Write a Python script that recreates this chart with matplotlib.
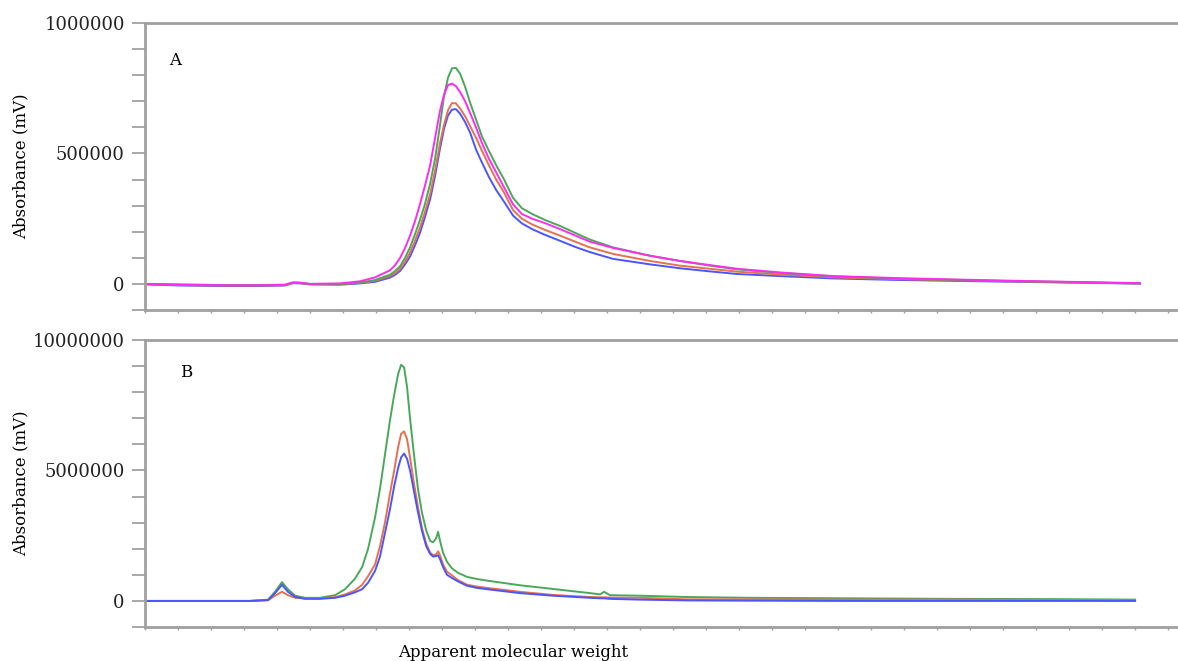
import matplotlib
matplotlib.use("Agg")
import matplotlib.pyplot as plt
from matplotlib.ticker import MultipleLocator, NullFormatter
import numpy as np

plt.rcParams['font.family'] = ['DejaVu Serif']

# --- Painel A: cromatogramas (eixo x em unidades de fracao) ---
xa = [0.00, 1.06, 2.27, 3.48, 4.24, 4.48, 4.70, 5.00, 5.91, 6.52, 6.97,
      7.42, 7.58, 7.73, 7.88, 8.03, 8.18, 8.33, 8.48, 8.64, 8.79, 8.94, 9.06,
      9.18, 9.30, 9.42, 9.55, 9.70, 9.85, 10.03, 10.21, 10.42, 10.64, 10.88,
      11.15, 11.42, 11.73, 12.12, 12.58, 13.03, 13.48,
      14.18, 15.30, 16.21, 17.12, 17.94, 19.24, 20.85, 22.88, 25.91, 28.03, 30.15]

# valores em milhares de mV
a_azul = [-2, -6, -8, -8, -6, 3, 2, -2, -3, 2, 8,
          24, 35, 50, 75, 105, 148, 195, 255, 325, 415, 520, 595, 645, 668, 670,
          652, 620, 580, 515, 465, 410, 360, 315, 262, 232, 210, 188, 165, 142, 122,
          96, 75, 60, 48, 38, 30, 21, 15, 9, 5, 1]
a_vermelho = [0, -4, -6, -6, -5, 4, 3, -1, -1, 4, 12,
              30, 42, 58, 85, 120, 165, 215, 275, 345, 435, 540, 610, 665, 693,
              692, 672, 642, 605, 560, 510, 455, 400, 350, 283, 250, 228, 207, 185,
              162, 140,
              115, 88, 70, 58, 47, 36, 25, 18, 11, 6, 2]
a_verde = [0, -2, -4, -4, -3, 5, 4, 0, 0, 5, 15,
           35, 50, 68, 100, 140, 190, 245, 305, 385, 480, 610, 720, 790, 826, 828,
           805, 755, 695, 630, 565, 510, 455, 400, 330, 290, 268, 245, 222, 196, 170,
           140, 108, 88, 70, 56, 42, 29, 20, 12, 7, 2]
a_magenta = [0, -3, -5, -5, -4, 6, 5, 0, 2, 10, 25,
             52, 72, 100, 138, 185, 240, 305, 375, 455, 560, 665, 725, 762, 768,
             758, 735, 700, 655, 600, 540, 480, 428, 370, 305, 268, 250, 233, 210,
             186, 162,
             138, 108, 88, 72, 58, 44, 30, 22, 13, 8, 3]

# --- Painel B ---
xb = [0.00, 1.67, 3.18, 3.73, 3.94, 4.15, 4.33, 4.55, 4.85, 5.30,
      5.76, 6.06, 6.36, 6.58, 6.76, 6.97, 7.12, 7.27, 7.42, 7.55, 7.67, 7.76,
      7.85, 7.94, 8.03, 8.15, 8.27, 8.39, 8.52, 8.64, 8.73, 8.82, 8.88, 8.94,
      9.03, 9.15, 9.30, 9.48, 9.76, 10.06, 10.36,
      11.36, 12.36, 13.48, 13.79, 13.91, 14.09, 15.00, 16.42, 18.33, 21.36,
      24.39, 27.42, 30.00]

# valores em milhoes de mV
b_verde = [0, 0, 0, 0.05, 0.35, 0.72, 0.45, 0.2, 0.12, 0.12,
           0.22, 0.45, 0.85, 1.3, 2.0, 3.2, 4.3, 5.6, 6.9, 7.9, 8.7, 9.05, 8.95,
           8.2, 7.0, 5.6, 4.3, 3.4, 2.7, 2.3, 2.25, 2.4, 2.65, 2.3, 1.85, 1.5, 1.25,
           1.08, 0.92, 0.84, 0.78,
           0.6, 0.46, 0.3, 0.25, 0.35, 0.22, 0.2, 0.15, 0.12, 0.1, 0.08, 0.07, 0.05]
b_vermelho = [0, 0, 0, 0.03, 0.2, 0.35, 0.22, 0.12, 0.1, 0.1,
              0.14, 0.25, 0.4, 0.62, 0.95, 1.4, 2.1, 3.0, 4.1, 5.0, 5.9, 6.4, 6.5,
              6.2, 5.5, 4.5, 3.6, 2.8, 2.2, 1.85, 1.75, 1.78, 1.9, 1.75, 1.4, 1.12,
              0.98, 0.8, 0.62, 0.55, 0.5,
              0.35, 0.23, 0.15, 0.14, 0.14, 0.13, 0.12, 0.06, 0.06, 0.05, 0.05,
              0.04, 0.02]
b_azul = [0, 0, 0, 0.03, 0.3, 0.62, 0.35, 0.15, 0.08, 0.08,
          0.12, 0.2, 0.33, 0.45, 0.7, 1.15, 1.7, 2.6, 3.5, 4.4, 5.1, 5.5, 5.65,
          5.45, 5.0, 4.2, 3.4, 2.7, 2.1, 1.8, 1.7, 1.72, 1.75, 1.6, 1.3, 1.0, 0.88,
          0.75, 0.58, 0.5, 0.45,
          0.3, 0.2, 0.12, 0.1, 0.1, 0.08, 0.05, 0.02, 0.01, 0, 0, 0, 0]

# cores
c_verde = '#4aa85a'
c_vermelho = '#e8704e'
c_azul = '#4a55ff'
c_magenta = '#ff2cf0'
c_eixo = '#a0a0a0'

fig = plt.figure(figsize=(11.78, 6.61), dpi=100)
axA = fig.add_axes([0.1231, 0.531, 0.8769, 0.4342])
axB = fig.add_axes([0.1231, 0.0514, 0.8769, 0.4342])

estilo = dict(lw=1.4, solid_joinstyle='round')
axA.plot(xa, np.array(a_azul) * 1e3, color=c_azul, **estilo)
axA.plot(xa, np.array(a_vermelho) * 1e3, color=c_vermelho, **estilo)
axA.plot(xa, np.array(a_verde) * 1e3, color=c_verde, **estilo)
axA.plot(xa, np.array(a_magenta) * 1e3, color=c_magenta, **estilo)

axB.plot(xb, np.array(b_verde) * 1e6, color=c_verde, **estilo)
axB.plot(xb, np.array(b_vermelho) * 1e6, color=c_vermelho, **estilo)
axB.plot(xb, np.array(b_azul) * 1e6, color=c_azul, **estilo)

axA.set_ylim(-100000, 1000000)
axB.set_ylim(-1000000, 10000000)

for ax, passo in [(axA, 100000), (axB, 1000000)]:
    ax.set_xlim(0, 31.3)
    ax.yaxis.set_major_locator(MultipleLocator(passo * 5))
    ax.yaxis.set_minor_locator(MultipleLocator(passo))
    ax.xaxis.set_major_locator(MultipleLocator(1))
    ax.xaxis.set_major_formatter(NullFormatter())
    ax.ticklabel_format(axis='y', style='plain')
    for lado in ['top', 'left', 'bottom']:
        ax.spines[lado].set_color(c_eixo)
        ax.spines[lado].set_linewidth(2)
    ax.spines['right'].set_visible(False)
    ax.tick_params(axis='y', which='both', length=9.5, width=1.3, color=c_eixo,
                   labelsize=13, labelcolor='#222222', pad=5)
    ax.tick_params(axis='x', which='major', length=2.5, width=1, color=c_eixo)
    ax.set_ylabel('Absorbance (mV)', fontsize=12)
    ax.yaxis.set_label_coords(-0.112, 0.5)

axA.text(0.029, 0.871, 'A', transform=axA.transAxes, fontsize=12,
         ha='center', va='center')
axB.text(0.0397, 0.888, 'B', transform=axB.transAxes, fontsize=12,
         ha='center', va='center')

fig.text(0.4355, 0.0136, 'Apparent molecular weight', fontsize=12,
         ha='center', va='center')

fig.savefig('out.png', dpi=100)
